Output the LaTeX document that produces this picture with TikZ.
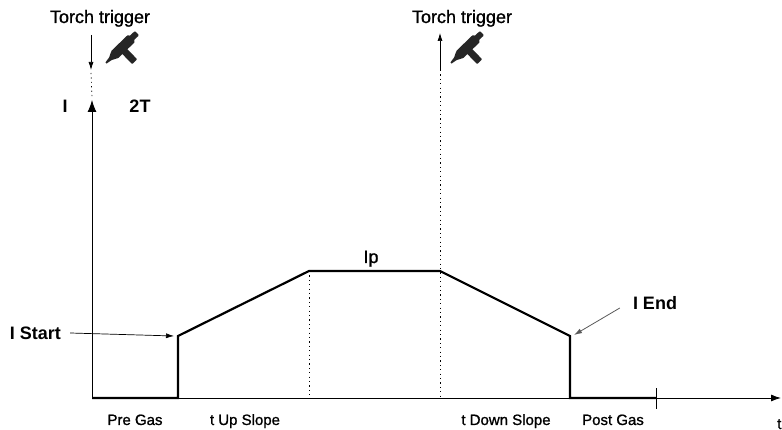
\documentclass[tikz,border=0pt]{standalone}
\usepackage{fontspec}
\setmainfont{Liberation Sans}
\newfontfamily\medfont[FakeBold = 1.1]{Liberation Sans}
\usetikzlibrary{arrows.meta}
\usetikzlibrary{positioning}
\tikzset{profile/.style = {line width = 2.2, line join = miter}}
\tikzset{axis/.style = {line width = 0.9}}
\tikzset{guide/.style = {line width = 0.7, dash pattern = on 1.2pt off 3.2pt}}
\tikzset{lbl/.style = {font = \medfont\fontsize{15}{15}\selectfont, inner sep = 0}}
\tikzset{blbl/.style = {font = \fontsize{18}{18}\selectfont\bfseries, inner sep = 0}}
\tikzset{ttl/.style = {font = \medfont\fontsize{18}{18}\selectfont, inner sep = 0}}
\definecolor{tgray}{rgb}{0.15, 0.15, 0.15}
\tikzset{torch/.pic = {
    \fill [tgray] (0, -0.8) -- (6, -1.8) -- (12, -4.8) -- (12, 4.8) -- (6, 1.8) -- (0, 0.8) -- cycle;
    \fill [tgray, rounded corners = 1.5pt] (11, -5) rectangle (36, 5);
    \fill [tgray, rounded corners = 1pt] (35, -3) rectangle (43, 3);
    \fill [tgray, rounded corners = 0.8pt] (18, -3) rectangle (25, -19);
  }}

\begin{document}
\begin{tikzpicture}[x = 1pt, y = 1pt]
    \useasboundingbox (0, 0) rectangle (782, 430);

    % axes
    \coordinate (O) at (92, 32);
    \coordinate (ytop) at (92, 330);
    \coordinate (xend) at (781, 32);
    \draw [axis, -{Latex[length = 12pt, width = 9pt]}] (O) -- (ytop);
    \draw [axis, -{Latex[length = 10pt, width = 7pt]}] (O) -- (xend);

    % current profile
    \coordinate (s0) at (178, 32);
    \coordinate (s1) at (178, 94);
    \coordinate (p0) at (309, 159);
    \coordinate (p1) at (440, 159);
    \coordinate (e1) at (570, 94);
    \coordinate (e0) at (570, 32);
    \coordinate (g1) at (656, 32);
    \draw [profile] (O) -- (s0) -- (s1) -- (p0) -- (p1) -- (e1) -- (e0) -- (g1);
    \draw [axis] ([yshift = -11]g1) -- ([yshift = 10]g1);

    \draw [guide] (p0) -- (p0 |- O);

    % torch triggers
    \node [ttl, anchor = base] (trigA) at (100, 407) {Torch trigger};
    \coordinate (tA0) at (91, 395);
    \coordinate (tA1) at (91, 360);
    \draw [line width = 0.7, -{Latex[length = 8pt, width = 5pt]}] (tA0) -- (tA1);
    \draw [guide] ([yshift = -3]tA1) -- ([yshift = 2]ytop);
    \pic (torchA) [rotate = 44] at (106, 367) {torch};

    \node [ttl, anchor = base] (trigB) at (462, 407) {Torch trigger};
    \coordinate (tB0) at (440, 360);
    \coordinate (tB1) at (440, 397);
    \draw [line width = 0.7, -{Latex[length = 8pt, width = 5pt]}] (tB0) -- (tB1);
    \draw [guide] (tB0) -- (tB0 |- O);
    \pic (torchB) [rotate = 44] at (451, 367) {torch};

    % labels
    \node [blbl] (ilbl) at (65, 324) {I};
    \node [blbl] (mode) at (140, 324) {2T};
    \node [ttl, anchor = base] (ip) at (371, 167) {Ip};

    \node [blbl] (istart) at (35.5, 97) {I Start};
    \draw [line width = 0.7, -{Latex[length = 8pt, width = 5pt]}] ([xshift = 9]istart.east) -- ([xshift = -4]s1);

    \node [blbl] (iend) at (655, 127) {I End};
    \draw [line width = 0.8, gray!70!black, -{Latex[length = 8pt, width = 5pt]}]
      ([xshift = -13, yshift = -5]iend.west) -- ([xshift = 4, yshift = 1]e1);

    \node [lbl, anchor = base] (pre) at (135, 5) {Pre Gas};
    \node [lbl, anchor = base] (up) at (245, 5) {t Up Slope};
    \node [lbl, anchor = base] (down) at (506, 5) {t Down Slope};
    \node [lbl, anchor = base] (post) at (613, 5) {Post Gas};
    \node [lbl, anchor = base west] (tlbl) at (777, 1) {t};
  \end{tikzpicture}
\end{document}
